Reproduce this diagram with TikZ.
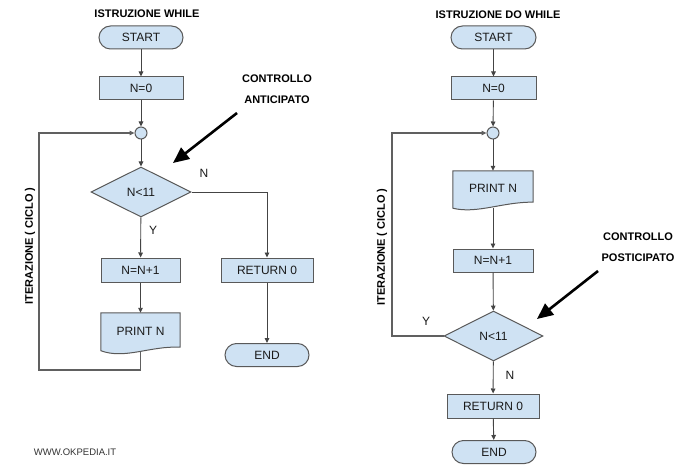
\documentclass[tikz,border=0pt]{standalone}
\usepackage{fontspec}
\setmainfont{Liberation Sans}
\usetikzlibrary{arrows.meta,shapes.geometric}
\definecolor{boxfill}{HTML}{CFE2F3}
\definecolor{boxline}{HTML}{595959}
\definecolor{connline}{HTML}{444444}
\definecolor{txt}{HTML}{1A1A1A}
\tikzset{
  base/.style={draw=boxline,fill=boxfill,line width=1pt,inner sep=0pt,text=txt,font=\fontsize{12}{14}\selectfont},
  procbox/.style={base,rectangle,minimum width=#1,minimum height=24pt},
  termbox/.style={base,rectangle,rounded corners=11.5pt,minimum width=84pt,minimum height=23pt},
  joinpt/.style={base,circle,minimum size=12pt},
  decbox/.style={base,diamond,minimum width=100pt,minimum height=50pt,shape aspect=2},
  docnode/.style={rectangle,inner sep=0pt,text=txt,font=\fontsize{12}{14}\selectfont,minimum width=#1,minimum height=39pt},
  docshape/.style={draw=boxline,fill=boxfill,line width=1pt},
  conn/.style={draw=connline,line width=0.9pt,-{Triangle[length=5pt,width=4.5pt]}},
  loopline/.style={draw=connline!85,line width=1.1pt,-{Triangle[length=5pt,width=4.5pt]}},
  bigarrow/.style={draw=black,line width=2.6pt,-{Triangle[length=16pt,width=14pt]}},
  title/.style={font=\bfseries\fontsize{11}{13}\selectfont,text=black},
  lbl/.style={font=\fontsize{12}{14}\selectfont,text=txt}
}
\begin{document}
\begin{tikzpicture}[x=1pt,y=-1pt]
\useasboundingbox (0,0) rectangle (700,470);
\fill[white] (0,0) rectangle (700,470);

% ---------------- LEFT: WHILE ----------------
\node[title] (t1) at (147,13.5) {ISTRUZIONE WHILE};
\node[termbox] (s1) at (141,37.5) {START};
\node[procbox=84pt,minimum height=23pt] (z1) at (141,88.5) {N=0};
\node[joinpt] (c1) at (141,133) {};
\node[decbox] (d1) at (141,192) {N<11};
\node[procbox=79pt] (i1) at (140.5,270) {N=N+1};
\node[procbox=92pt] (r1) at (267,270) {RETURN 0};
\node[docnode=79pt] (p1) at (140.5,332.5) {\raisebox{1.5pt}{PRINT N}};
\begin{pgfonlayer}{main}\end{pgfonlayer}
\path[docshape] (p1.north west) -- (p1.north east) -- ([yshift=5pt]p1.south east)
  .. controls ([xshift=-30pt,yshift=6.5pt]p1.south east) and ([xshift=24pt,yshift=-7.5pt]p1.south west) ..
  ([yshift=1.5pt]p1.south west) -- cycle;
\node[docnode=79pt] at (p1) {\raisebox{1.5pt}{PRINT N}};
\node[termbox] (e1) at (267,355) {END};

\draw[conn] (s1) -- (z1);
\draw[conn] (z1) -- (c1);
\draw[conn] (c1) -- (d1);
\draw[conn] (d1) -- (i1);
\draw[conn] (i1) -- (p1);
\draw[conn] (d1.east) -| (r1.north);
\draw[conn] (r1) -- (e1);
\coordinate (lb1) at (39,370);
\draw[loopline] (p1.south) |- (lb1) |- (c1.west);

\node[lbl] (n1) at (204,173) {N};
\node[lbl] (y1) at (153,230) {Y};

\node[title] (k1) at (277,79) {CONTROLLO};
\node[title] (k2) at (277,100) {ANTICIPATO};
\coordinate (a1s) at (237,113);
\coordinate (a1e) at (173,163);
\draw[bigarrow] (a1s) -- (a1e);

\node[title,rotate=90] (it1) at (30,246) {ITERAZIONE ( CICLO )};
\node[font=\fontsize{9.5}{11}\selectfont,text=black!80] (w) at (75,452) {WWW.OKPEDIA.IT};

% ---------------- RIGHT: DO WHILE ----------------
\node[title] (t2) at (498,15) {ISTRUZIONE DO WHILE};
\node[termbox,minimum width=85pt] (s2) at (493.5,37.5) {START};
\node[procbox=85pt,minimum height=23pt] (z2) at (493.5,88.5) {N=0};
\node[joinpt] (c2) at (493,133) {};
\node[docnode=80pt,minimum height=38pt] (p2) at (493,190) {\raisebox{3pt}{PRINT N}};
\path[docshape] (p2.north west) -- (p2.north east) -- ([yshift=7pt]p2.south east)
  .. controls ([xshift=-30pt,yshift=7.5pt]p2.south east) and ([xshift=24pt,yshift=-5pt]p2.south west) ..
  ([yshift=1pt]p2.south west) -- cycle;
\node[docnode=80pt,minimum height=38pt] at (p2) {\raisebox{3pt}{PRINT N}};
\node[procbox=80pt,minimum height=23pt] (i2) at (493,260.5) {N=N+1};
\node[decbox,minimum width=99pt] (d2) at (493.5,336) {N<11};
\node[procbox=92pt] (r2) at (493,406) {RETURN 0};
\node[termbox] (e2) at (494,452) {END};

\draw[conn] (s2) -- (z2);
\draw[conn] (z2) -- (c2);
\draw[conn] (c2) -- (p2);
\draw[conn] ([yshift=1pt]p2.south) -- (i2);
\draw[conn] (i2) -- (d2);
\draw[conn] (d2) -- (r2);
\draw[conn] (r2) -- (e2);
\coordinate (lb2) at (392,336);
\draw[loopline] (d2.west) -- (lb2) |- (c2.west);

\node[lbl] (y2) at (426,321) {Y};
\node[lbl] (n2) at (510,375) {N};

\node[title] (k3) at (638,237) {CONTROLLO};
\node[title] (k4) at (638,258) {POSTICIPATO};
\coordinate (a2s) at (598,271);
\coordinate (a2e) at (537,319);
\draw[bigarrow] (a2s) -- (a2e);

\node[title,rotate=90] (it2) at (382,247) {ITERAZIONE ( CICLO )};
\end{tikzpicture}
\end{document}
